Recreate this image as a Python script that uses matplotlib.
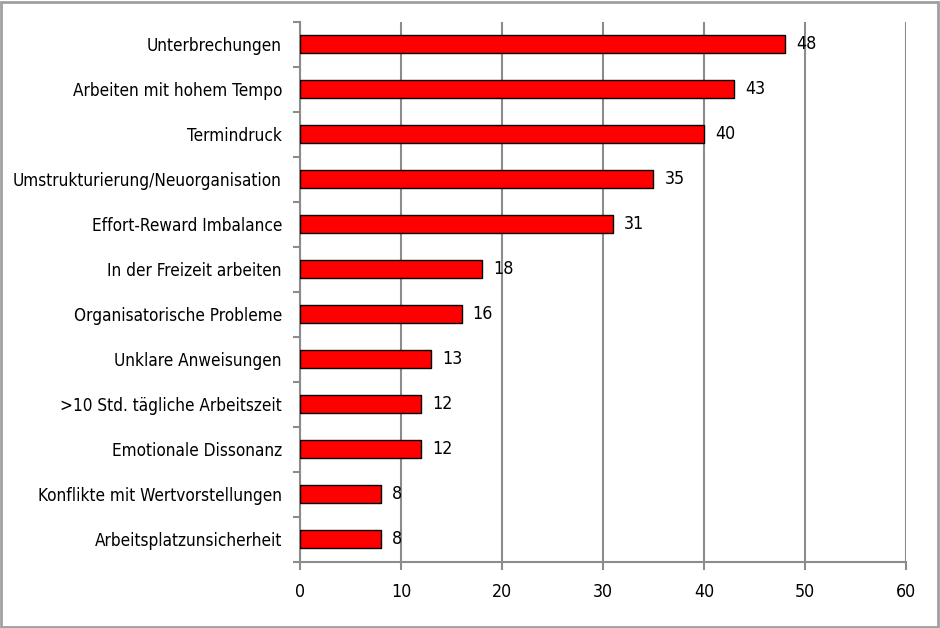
import matplotlib.pyplot as plt
from matplotlib.patches import Rectangle

labels = ["Unterbrechungen", "Arbeiten mit hohem Tempo", "Termindruck",
          "Umstrukturierung/Neuorganisation", "Effort-Reward Imbalance",
          "In der Freizeit arbeiten", "Organisatorische Probleme",
          "Unklare Anweisungen", ">10 Std. tägliche Arbeitszeit",
          "Emotionale Dissonanz", "Konflikte mit Wertvorstellungen",
          "Arbeitsplatzunsicherheit"]
values = [48, 43, 40, 35, 31, 18, 16, 13, 12, 12, 8, 8]
xticks = [0, 10, 20, 30, 40, 50, 60]

plt.rcParams['font.family'] = ['DejaVu Sans']
plt.rcParams['font.stretch'] = 'condensed'
grey = '#8c8c8c'
fs = 12.3

fig = plt.figure(figsize=(9.4, 6.28), dpi=100)
ax = fig.add_axes([0.3191, 0.1051, 0.6447, 0.8599])

n = len(labels)
ypos = list(range(n))
ax.barh(ypos, values, height=0.4, color='#ff0000', edgecolor='black', linewidth=1.0, zorder=3)
for y, v in zip(ypos, values):
    ax.text(v + 1.1, y, str(v), va='center', ha='left', fontsize=fs + 0.5, zorder=4)

ax.set_ylim(n - 0.5, -0.5)
ax.set_xlim(0, 60)
ax.set_xticks(xticks)
ax.set_yticks(ypos)
ax.set_yticklabels(labels, fontsize=fs)
ax.tick_params(axis='y', length=0, pad=13)
ax.set_yticks([i - 0.5 for i in range(n + 1)], minor=True)
ax.tick_params(axis='y', which='minor', length=5, color=grey, width=1.5)
ax.tick_params(axis='x', length=6, color=grey, width=1.5, labelsize=fs + 0.5, pad=9)
ax.grid(axis='x', color=grey, linewidth=1.5, zorder=0)

for s in ['top', 'right']:
    ax.spines[s].set_visible(False)
for s in ['left', 'bottom']:
    ax.spines[s].set_color(grey)
    ax.spines[s].set_linewidth(1.5)

fig.patches.append(Rectangle((0.001, 0.002), 0.997, 0.995, transform=fig.transFigure,
                             fill=False, edgecolor='#a0a0a0', linewidth=2))

fig.savefig('out.png', dpi=100)
